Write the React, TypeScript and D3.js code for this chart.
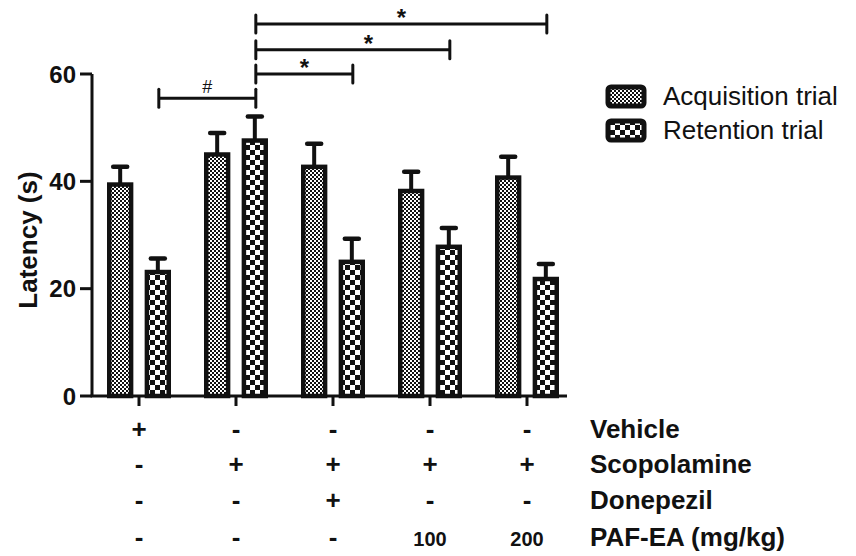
import React from "react";
import * as d3 from "d3";

const groups = ["G1", "G2", "G3", "G4", "G5"];
const seriesNames = ["Acquisition trial", "Retention trial"];
const acquisition = [39.4, 45.0, 42.7, 38.2, 40.7];
const acquisitionErr = [3.3, 4.0, 4.3, 3.6, 3.9];
const retention = [23.1, 47.6, 25.0, 27.8, 21.8];
const retentionErr = [2.5, 4.5, 4.3, 3.5, 2.8];
const yTicks = [0, 20, 40, 60];

const rowLabels = ["Vehicle", "Scopolamine", "Donepezil", "PAF-EA (mg/kg)"];
const vehicle = ["+", "-", "-", "-", "-"];
const scopolamine = ["-", "+", "+", "+", "+"];
const donepezil = ["-", "-", "+", "-", "-"];
const pafea = ["-", "-", "-", "100", "200"];

// significance brackets between retention bars
const sigFrom = [0, 1, 1, 1];
const sigTo = [1, 2, 3, 4];
const sigLevel = [55.5, 60.0, 64.5, 69.3];
const sigLabel = ["#", "*", "*", "*"];
const sigLabelFrac = [0.5, 0.5, 0.58, 0.5];

const FONT = "'Liberation Sans', Arial, Helvetica, sans-serif";

export default function App() {
  const W = 856, H = 556;
  const x0 = d3.scaleBand<string>().domain(groups).range([90.5, 575.5]).paddingInner(0).paddingOuter(0);
  const x1 = d3.scaleBand<string>().domain(seriesNames).range([16.5, 80.5]).paddingInner(0.3);
  const y = d3.scaleLinear().domain([0, 60]).range([396, 74]);
  const axisX0 = 92, axisX1 = 567;
  const bw = x1.bandwidth();
  const sw = 4.5;
  const patIds = ["patAcq", "patRet"];
  const vals = [acquisition, retention];
  const errs = [acquisitionErr, retentionErr];
  const center = (g: number) => (x0(groups[g]) as number) + x0.bandwidth() / 2;
  const barCenter = (g: number, s: number) => (x0(groups[g]) as number) + (x1(seriesNames[s]) as number) + bw / 2;
  const rows = [vehicle, scopolamine, donepezil, pafea];
  const rowY = [438, 473, 509, 546];

  return (
    <svg width={W} height={H} style={{ position: "absolute", left: 0, top: 0, background: "#fff" }} fontFamily={FONT}>
      <defs>
        <pattern id="patAcq" width={4} height={4} patternUnits="userSpaceOnUse">
          <rect width={4} height={4} fill="#fff" />
          <rect width={2} height={2} fill="#111" />
          <rect x={2} y={2} width={2} height={2} fill="#111" />
        </pattern>
        <pattern id="patRet" width={10} height={10} patternUnits="userSpaceOnUse">
          <rect width={10} height={10} fill="#fff" />
          <rect width={5} height={5} fill="#111" />
          <rect x={5} y={5} width={5} height={5} fill="#111" />
        </pattern>
      </defs>
      <rect width={W} height={H} fill="#fff" />

      {/* bars */}
      {groups.map((g, gi) =>
        seriesNames.map((s, si) => {
          const bx = (x0(g) as number) + (x1(s) as number);
          const v = vals[si][gi];
          const e = errs[si][gi];
          const cx = bx + bw / 2;
          return (
            <g key={g + s}>
              <line x1={cx} x2={cx} y1={y(v)} y2={y(v + e)} stroke="#111" strokeWidth={4} />
              <line x1={cx - 7} x2={cx + 7} y1={y(v + e)} y2={y(v + e)} stroke="#111" strokeWidth={4.5} strokeLinecap="round" />
              <rect x={bx + sw / 2} y={y(v)} width={bw - sw} height={y(0) - y(v)} fill={`url(#${patIds[si]})`} stroke="#111" strokeWidth={sw} />
            </g>
          );
        })
      )}

      {/* axes */}
      <line x1={axisX0} x2={axisX0} y1={y(60)} y2={y(0)} stroke="#111" strokeWidth={3} />
      <line x1={axisX0 - 1.5} x2={axisX1} y1={y(0)} y2={y(0)} stroke="#111" strokeWidth={3} />
      {yTicks.map((t) => (
        <g key={t}>
          <line x1={axisX0 - 12} x2={axisX0} y1={y(t)} y2={y(t)} stroke="#111" strokeWidth={3} />
          <text x={axisX0 - 16} y={y(t)} dy="0.36em" textAnchor="end" fontWeight="bold" fontSize={24} fill="#111">{t}</text>
        </g>
      ))}
      {groups.map((g, gi) => (
        <line key={g} x1={center(gi)} x2={center(gi)} y1={y(0)} y2={y(0) + 10} stroke="#111" strokeWidth={3} />
      ))}
      <text transform={`translate(37,240) rotate(-90)`} textAnchor="middle" fontWeight="bold" fontSize={26} fill="#111">Latency (s)</text>

      {/* significance brackets */}
      {sigFrom.map((f, i) => {
        const xa = barCenter(f, 1) + 1;
        const xb = barCenter(sigTo[i], 1) + 1;
        const yy = y(sigLevel[i]);
        const lx = xa + (xb - xa) * sigLabelFrac[i];
        return (
          <g key={i}>
            <line x1={xa} x2={xb} y1={yy} y2={yy} stroke="#111" strokeWidth={3} />
            <line x1={xa} x2={xa} y1={yy - 9} y2={yy + 9} stroke="#111" strokeWidth={3} strokeLinecap="round" />
            <line x1={xb} x2={xb} y1={yy - 9} y2={yy + 9} stroke="#111" strokeWidth={3} strokeLinecap="round" />
            {sigLabel[i] === "#" ? (
              <text x={lx} y={yy - 5} textAnchor="middle" fontSize={18} fill="#111">#</text>
            ) : (
              <text x={lx} y={yy + 2} textAnchor="middle" fontSize={24} fontWeight="bold" fill="#111">*</text>
            )}
          </g>
        );
      })}

      {/* treatment table */}
      {rows.map((r, ri) => (
        <g key={ri}>
          {r.map((v, gi) => (
            <text key={gi} x={center(gi)} y={rowY[ri]} textAnchor="middle" fontWeight="bold" fontSize={/^\d+$/.test(v) ? 20 : 26} fill="#111">{v}</text>
          ))}
          <text x={590} y={rowY[ri]} fontWeight="bold" fontSize={26} fill="#111">{rowLabels[ri]}</text>
        </g>
      ))}

      {/* legend */}
      {seriesNames.map((s, si) => (
        <g key={s}>
          <rect x={608} y={87 + si * 34} width={36} height={19} rx={3} fill={`url(#${patIds[si]})`} stroke="#111" strokeWidth={5} />
          <text x={663} y={105 + si * 34} fontSize={26} fill="#111">{s}</text>
        </g>
      ))}
    </svg>
  );
}
